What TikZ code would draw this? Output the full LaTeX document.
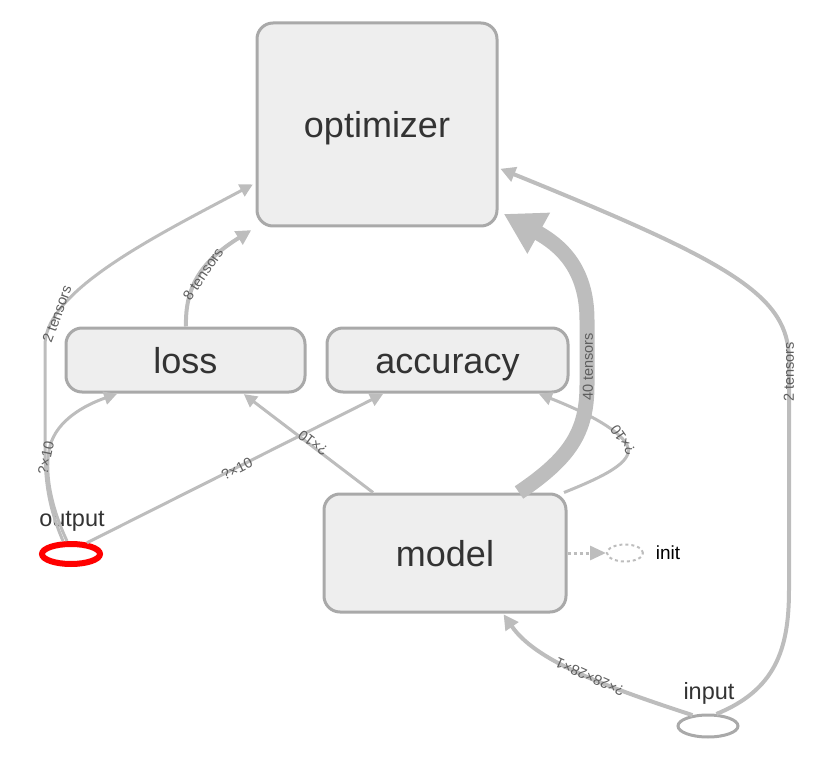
\documentclass[tikz,border=0pt]{standalone}
\usepackage{fontspec}
\setmainfont{Liberation Sans}
\usetikzlibrary{arrows.meta,shapes.geometric}
\definecolor{edgec}{HTML}{BDBDBD}
\definecolor{nodeb}{HTML}{A9A9A9}
\definecolor{nodef}{HTML}{EEEEEE}
\definecolor{txtc}{HTML}{333333}
\definecolor{lblc}{HTML}{5E5E5E}
\tikzset{
  opbox/.style={rectangle, rounded corners=16pt, draw=nodeb, fill=nodef, line width=3pt,
    text=txtc, font=\fontsize{36}{42}\selectfont, inner sep=0pt, text height=31pt, text depth=4pt},
  edge/.style={draw=edgec, line width=3pt, -{Triangle[length=13pt,width=13pt]}},
  fatedge/.style={draw=edgec, line width=4pt, -{Triangle[length=15pt,width=15pt]}},
  elabel/.style={text=lblc, font=\fontsize{14.5}{16}\selectfont, inner sep=0pt},
  nlabel/.style={text=txtc, font=\fontsize{23.5}{27}\selectfont, inner sep=0pt},
}
\begin{document}
\begin{tikzpicture}[x=1pt,y=-1pt]
\useasboundingbox (0,0) rectangle (815,757);
% nodes
\node[opbox, minimum width=240pt, minimum height=203pt] (optimizer) at (377,124.5) {optimizer};
\node[opbox, minimum width=239pt, minimum height=64pt] (loss) at (185.5,360) {loss};
\node[opbox, minimum width=241pt, minimum height=64pt] (accuracy) at (447.5,360) {accuracy};
\node[opbox, minimum width=242pt, minimum height=118pt] (model) at (445,553) {model};
\node[ellipse, draw=red, line width=6pt, minimum width=58pt, minimum height=20pt, inner sep=0pt] (output) at (71,554) {};
\node[ellipse, draw=nodeb, line width=3pt, minimum width=60pt, minimum height=22pt, inner sep=0pt] (input) at (708,726) {};
\node[ellipse, draw=edgec, dashed, line width=2pt, minimum width=36pt, minimum height=17pt, inner sep=0pt] (init) at (625,553) {};
\node[nlabel] (outputlbl) at (72,521) {output};
\node[nlabel] (inputlbl) at (709,693) {input};
\node[text=black, font=\fontsize{19}{23}\selectfont, inner sep=0pt] (initlbl) at (668,553) {init};

% edges
% output -> optimizer
\draw[edge, shorten >=3pt] (output.north -| 63,0) .. controls (52,515) and (45,490) .. (45,450)
  -- (45,345) .. controls (45,290) and (160,234) .. (optimizer.west |- 0,183);
% output -> loss
\draw[edge, shorten >=1pt] (output.north -| 67,0) .. controls (50,505) and (44,470) .. (50,446)
  .. controls (57,420) and (85,405) .. (loss.south -| 118,0);
% output -> accuracy
\draw[edge, shorten >=1pt] (output.35) -- (accuracy.south -| 384,0);
% model -> loss
\draw[edge, shorten >=1pt] (model.north -| 373,0) -- (loss.south -| 243,0);
% model -> accuracy
\draw[edge, shorten >=1pt] (model.north -| 564,0) .. controls (600,478) and (636,462) .. (627,445)
  .. controls (618,428) and (580,410) .. (accuracy.south -| 538,0);
% model -> optimizer (40 tensors)
\draw[draw=edgec, line width=15pt, -{Triangle[length=40pt,width=44pt]}, shorten >=6pt]
  (model.north -| 519,0) .. controls (570,458) and (587,432) .. (587,385) -- (587,320)
  .. controls (587,268) and (560,245) .. (optimizer.east |- 0,211);
% input -> optimizer
\draw[fatedge, shorten >=2pt] (input.55) .. controls (775,690) and (789,650) .. (789,590)
  -- (789,360) .. controls (789,295) and (730,262) .. (optimizer.east |- 0,168);
% input -> model
\draw[fatedge, shorten >=1pt] (input.145) .. controls (600,685) and (535,660) .. (model.south -| 503,0);
% loss -> optimizer
\draw[fatedge, shorten >=5pt] (loss.north -| 186,0) .. controls (185,288) and (200,262) .. (optimizer.south west);
% model -> init
\draw[draw=edgec, line width=3pt, dash pattern=on 3pt off 3pt, -{Triangle[length=16pt,width=14pt]}]
  (model.east) -- (init.west);

% edge labels
\node[elabel, rotate=70] (l1) at (57,314) {2 tensors};
\node[elabel, rotate=78] (l2) at (46,458) {?×10};
\node[elabel, rotate=27] (l3) at (237,469) {?×10};
\node[elabel, rotate=143] (l4) at (313,443) {?×10};
\node[elabel, rotate=125] (l5) at (623,440) {?×10};
\node[elabel, rotate=90] (l6) at (588,367) {40 tensors};
\node[elabel, rotate=90] (l7) at (789,372) {2 tensors};
\node[elabel, rotate=156] (l8) at (590,677) {?×28×28×1};
\node[elabel, rotate=56] (l9) at (203,274) {8 tensors};
\end{tikzpicture}
\end{document}
